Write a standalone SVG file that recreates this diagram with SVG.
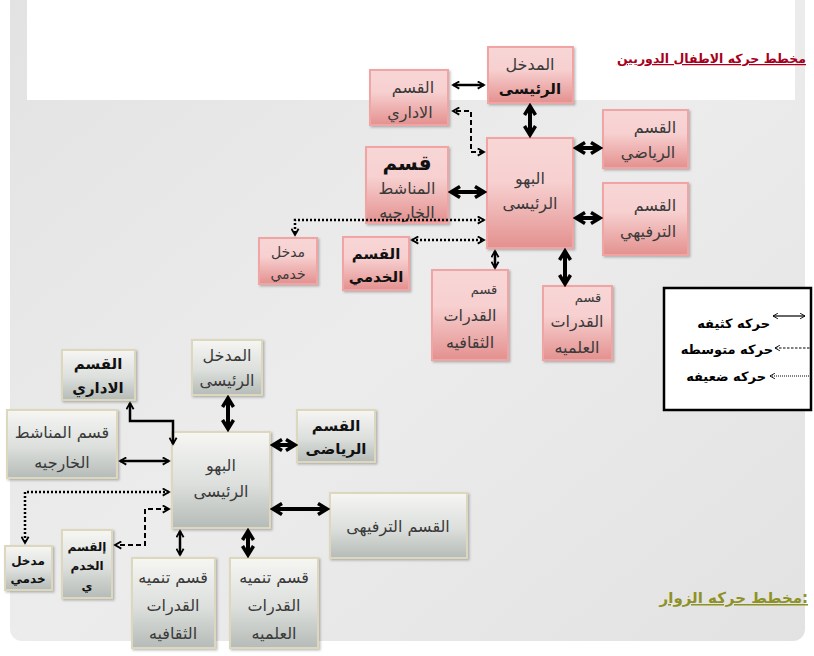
<svg xmlns="http://www.w3.org/2000/svg" width="814" height="656" viewBox="0 0 814 656">
<defs>
<linearGradient id="pink" x1="0" y1="0" x2="0" y2="1">
<stop offset="0" stop-color="#f8d6d6"/><stop offset="0.4" stop-color="#f7d0d0"/><stop offset="1" stop-color="#e3918f"/>
</linearGradient>
<linearGradient id="silver" x1="0" y1="0" x2="0" y2="1">
<stop offset="0" stop-color="#f6f6f3"/><stop offset="0.55" stop-color="#dcdfdc"/><stop offset="1" stop-color="#b5bbb8"/>
</linearGradient>
<linearGradient id="bg" x1="0" y1="0" x2="1" y2="1">
<stop offset="0" stop-color="#e2e2e2"/><stop offset="0.5" stop-color="#ececec"/><stop offset="1" stop-color="#e2e2e2"/>
</linearGradient>
<filter id="sh" x="-10%" y="-10%" width="130%" height="130%">
<feDropShadow dx="1.5" dy="1.5" stdDeviation="1.2" flood-color="#000" flood-opacity="0.25"/>
</filter>
<marker id="ch" viewBox="0 0 10 10" refX="8" refY="5" markerWidth="9" markerHeight="9" markerUnits="userSpaceOnUse" orient="auto-start-reverse">
<path d="M1,1 L8,5 L1,9" fill="none" stroke="#000" stroke-width="2"/>
</marker>
<marker id="chT" viewBox="0 0 14 14" refX="11" refY="7" markerWidth="14" markerHeight="14" markerUnits="userSpaceOnUse" orient="auto-start-reverse">
<path d="M2,1.5 L11,7 L2,12.5" fill="none" stroke="#000" stroke-width="3.5"/>
</marker>
<marker id="chS" viewBox="0 0 10 10" refX="8" refY="5" markerWidth="7" markerHeight="7" markerUnits="userSpaceOnUse" orient="auto-start-reverse">
<path d="M1,1 L8,5 L1,9" fill="none" stroke="#000" stroke-width="1.3"/>
</marker>
</defs>
<style>
.pk{fill:url(#pink);stroke:#f0a4a4;stroke-width:2;filter:url(#sh)}
.sv{fill:url(#silver);stroke:#ddd7bd;stroke-width:2;filter:url(#sh)}
text{font-family:"DejaVu Sans","Noto Sans",sans-serif;text-anchor:middle}
.r{font-size:16px;fill:#3a3a3a}
.b{font-size:15px;font-weight:bold;fill:#111}
.s{font-size:12px;font-weight:bold;fill:#111}
.m{stroke:#000;stroke-width:2.5;fill:none;marker-start:url(#ch);marker-end:url(#ch)}
.t{stroke:#000;stroke-width:4;fill:none;marker-start:url(#chT);marker-end:url(#chT)}
.dt{stroke:#000;stroke-width:2.5;fill:none;stroke-dasharray:2 2;marker-start:url(#ch);marker-end:url(#ch)}
.ds{stroke:#000;stroke-width:2;fill:none;stroke-dasharray:5 3;marker-start:url(#ch);marker-end:url(#ch)}
</style>
<rect x="0" y="0" width="814" height="656" fill="#ffffff"/>
<rect x="10" y="-20" width="795" height="661" rx="12" fill="url(#bg)"/>
<rect x="27" y="0" width="768" height="100" fill="#ffffff"/>

<g id="title-top">
<text x="806" y="63" style="text-anchor:end;font-size:12.5px;font-weight:bold;fill:#a8001c;text-decoration:underline">مخطط حركه الاطفال الدوريين</text>
</g>
<g id="title-bottom">
<text x="808" y="603" style="text-anchor:end;font-size:15px;font-weight:bold;fill:#8e9226;text-decoration:underline">مخطط حركه الزوار:</text>
</g>

<g id="t-entrance"><rect class="pk" x="488" y="47" width="85" height="56"/>
<text class="r" x="530" y="70">المدخل</text><text class="b" x="530" y="94">الرئيسى</text></g>
<g id="t-admin"><rect class="pk" x="370" y="70" width="78" height="55"/>
<text class="r" x="413" y="93">القسم</text><text class="r" x="410" y="118">الاداري</text></g>
<g id="t-sports"><rect class="pk" x="603" y="110" width="85" height="58"/>
<text class="r" x="655" y="133">القسم</text><text class="r" x="648" y="158">الرياضي</text></g>
<g id="t-lobby"><rect class="pk" x="487" y="138" width="86" height="110"/>
<text class="r" x="530" y="184">البهو</text><text class="r" x="530" y="209">الرئيسى</text></g>
<g id="t-outdoor"><rect class="pk" x="366" y="147" width="82" height="76"/>
<text x="407" y="170" style="font-size:20px;font-weight:bold;fill:#111">قسم</text>
<text class="r" x="407" y="194">المناشط</text><text class="r" x="407" y="218">الخارجيه</text></g>
<g id="t-leisure"><rect class="pk" x="603" y="183" width="85" height="72"/>
<text class="r" x="655" y="211">القسم</text><text class="r" x="648" y="237">الترفيهي</text></g>
<g id="t-service-entry"><rect class="pk" x="259" y="238" width="58" height="46"/>
<text class="r" x="288" y="257" style="font-size:14px">مدخل</text><text class="r" x="288" y="279" style="font-size:14px">خدمي</text></g>
<g id="t-service"><rect class="pk" x="343" y="237" width="66" height="53"/>
<text class="b" x="376" y="259">القسم</text><text class="b" x="376" y="282">الخدمي</text></g>
<g id="t-culture"><rect class="pk" x="432" y="270" width="76" height="90"/>
<text class="r" x="484" y="294" style="font-size:13px">قسم</text><text class="r" x="470" y="321">القدرات</text><text class="r" x="470" y="348">الثقافيه</text></g>
<g id="t-science"><rect class="pk" x="543" y="286" width="69" height="74"/>
<text class="r" x="588" y="302" style="font-size:13px">قسم</text><text class="r" x="577" y="327">القدرات</text><text class="r" x="577" y="353">العلميه</text></g>

<g id="b-admin"><rect class="sv" x="62" y="350" width="73" height="50"/>
<text class="b" x="98" y="369">القسم</text><text class="b" x="98" y="393">الاداري</text></g>
<g id="b-entrance"><rect class="sv" x="192" y="340" width="70" height="55"/>
<text class="r" x="227" y="361">المدخل</text><text class="r" x="227" y="386">الرئيسى</text></g>
<g id="b-sports"><rect class="sv" x="297" y="410" width="78" height="52"/>
<text class="b" x="336" y="431">القسم</text><text class="b" x="336" y="454">الرياضى</text></g>
<g id="b-outdoor"><rect class="sv" x="7" y="410" width="110" height="68"/>
<text class="r" x="62" y="438">قسم المناشط</text><text class="r" x="62" y="468">الخارجيه</text></g>
<g id="b-lobby"><rect class="sv" x="172" y="432" width="98" height="96"/>
<text class="r" x="221" y="471">البهو</text><text class="r" x="221" y="497">الرئيسى</text></g>
<g id="b-leisure"><rect class="sv" x="330" y="493" width="137" height="65"/>
<text class="r" x="398" y="532">القسم الترفيهى</text></g>
<g id="b-service-entry"><rect class="sv" x="5" y="546" width="47" height="44"/>
<text class="s" x="28" y="565">مدخل</text><text class="s" x="28" y="583">خدمي</text></g>
<g id="b-service"><rect class="sv" x="62" y="530" width="50" height="68"/>
<text class="s" x="87" y="551">إلقسم</text><text class="s" x="87" y="570">الخدم</text><text class="s" x="87" y="590">ي</text></g>
<g id="b-culture"><rect class="sv" x="132" y="558" width="83" height="90"/>
<text class="r" x="173" y="583">قسم تنميه</text><text class="r" x="173" y="611">القدرات</text><text class="r" x="173" y="639">الثقافيه</text></g>
<g id="b-science"><rect class="sv" x="230" y="558" width="88" height="90"/>
<text class="r" x="274" y="583">قسم تنميه</text><text class="r" x="274" y="611">القدرات</text><text class="r" x="274" y="639">العلميه</text></g>

<g id="connectors">
<line class="m" x1="453" y1="85" x2="484" y2="85"/>
<line class="t" x1="530" y1="106" x2="530" y2="135"/>
<path class="ds" d="M484,152 L471,152 L471,111 L453,111"/>
<line class="t" x1="576" y1="148" x2="600" y2="148"/>
<line class="t" x1="576" y1="218" x2="600" y2="218"/>
<line class="t" x1="451" y1="192" x2="484" y2="192"/>
<path class="dt" d="M484,220 L295,220 L295,235"/>
<line class="dt" x1="412" y1="240" x2="484" y2="240"/>
<line class="m" x1="495" y1="251" x2="495" y2="268"/>
<line class="t" x1="565" y1="251" x2="565" y2="284"/>

<path class="m" d="M130,403 L130,421 L173,421 L173,444"/>
<line class="t" x1="228" y1="398" x2="228" y2="429"/>
<line class="t" x1="273" y1="445" x2="295" y2="445"/>
<line class="m" x1="120" y1="461" x2="169" y2="461"/>
<path class="dt" d="M169,492 L25,492 L25,543"/>
<path class="ds" d="M169,509 L145,509 L145,545 L115,545"/>
<line class="t" x1="273" y1="509" x2="327" y2="509"/>
<line class="m" x1="180" y1="531" x2="180" y2="555"/>
<line class="t" x1="248" y1="531" x2="248" y2="555"/>
</g>

<g id="legend">
<rect x="664" y="288" width="147" height="122" fill="#ffffff" stroke="#000" stroke-width="2.5"/>
<text x="770" y="328" style="text-anchor:end;font-size:13px;font-weight:bold;fill:#000">حركه كثيفه</text>
<line x1="773" y1="316" x2="805" y2="316" stroke="#000" stroke-width="1.2" marker-start="url(#chS)" marker-end="url(#chS)"/>
<text x="773" y="354" style="text-anchor:end;font-size:13px;font-weight:bold;fill:#000">حركه متوسطه</text>
<line x1="775" y1="348" x2="811" y2="348" stroke="#000" stroke-width="1" stroke-dasharray="2.5 1.5" marker-start="url(#chS)"/>
<text x="766" y="381" style="text-anchor:end;font-size:13px;font-weight:bold;fill:#000">حركه ضعيفه</text>
<line x1="770" y1="376" x2="811" y2="376" stroke="#000" stroke-width="1" stroke-dasharray="1 1" marker-start="url(#chS)"/>
</g>
</svg>
